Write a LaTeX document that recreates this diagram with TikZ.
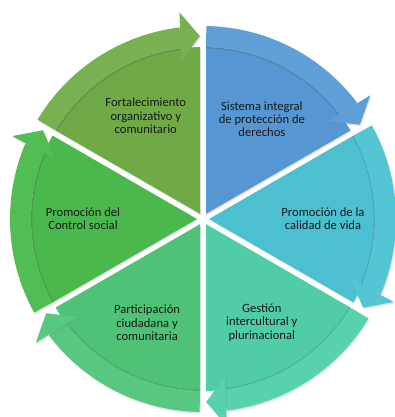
\documentclass[tikz,border=0pt]{standalone}
\usepackage{fontspec}
\setmainfont{Carlito}
\usetikzlibrary{calc,shadows}
% segment colours: wedge / arrow band
\definecolor{fortW}{RGB}{112,170,70}
\definecolor{fortB}{RGB}{120,178,80}
\definecolor{sisW}{RGB}{86,150,210}
\definecolor{sisB}{RGB}{96,158,216}
\definecolor{calW}{RGB}{76,192,208}
\definecolor{calB}{RGB}{84,197,211}
\definecolor{gesW}{RGB}{80,204,166}
\definecolor{gesB}{RGB}{88,209,173}
\definecolor{parW}{RGB}{80,194,120}
\definecolor{parB}{RGB}{88,199,128}
\definecolor{conW}{RGB}{74,184,76}
\definecolor{conB}{RGB}{82,189,84}
\begin{document}
\begin{tikzpicture}[x=1pt,y=1pt,
  every node/.style={font=\fontsize{12.6}{13.2}\selectfont,align=center,text=black!90},
  softshadow/.style={drop shadow={shadow xshift=1pt,shadow yshift=-1.5pt,opacity=0.22}}]
\useasboundingbox (0,0) rectangle (394,417);
\coordinate (c) at (203,198);
\def\ri{172}
\def\R{193}
% wedges (gap of about 6pt between them)
\foreach \a/\wc in {150/fortW,90/sisW,30/calW,-30/gesW,-90/parW,-150/conW}{
  \pgfmathsetmacro\s{\a-1}
  \pgfmathsetmacro\e{\a-59}
  \pgfmathsetmacro\m{\a-30}
  \fill[\wc,softshadow]
    ($(c)+(\m:6)$) -- ($(c)+(\s:\ri)$) arc[start angle=\s,end angle=\e,radius=\ri] -- cycle;
}
% arrow bands on the rim
\foreach \a/\bc in {150/fortB,90/sisB,30/calB,-30/gesB,-90/parB,-150/conB}{
  \pgfmathsetmacro\s{\a-1}
  \pgfmathsetmacro\h{\a-53}
  \fill[\bc,softshadow] ($(c)+(\s:\R)$) arc[start angle=\s,end angle=\h,radius=\R]
    -- ($(c)+(\h:\ri)$) arc[start angle=\h,end angle=\s,radius=\ri] -- cycle;
  \draw[black,opacity=0.10,line width=1.4pt] ($(c)+(\s:\ri-0.7)$) arc[start angle=\s,end angle=\h,radius=\ri-0.7];
}
% arrow heads, clockwise
\foreach \a/\bc in {150/fortB,90/sisB,30/calB,-30/gesB,-90/parB,-150/conB}{
  \pgfmathsetmacro\wo{\a-53.5}
  \pgfmathsetmacro\wi{\a-52}
  \pgfmathsetmacro\t{\a-59}
  \fill[\bc,softshadow] ($(c)+(\wo:208)$) -- ($(c)+(\t:183)$) -- ($(c)+(\wi:159)$) -- cycle;
}
% labels
\node (fort) at ($(c)+(119:118)$) {Fortalecimiento\\organizativo y\\comunitario};
\node (sis) at ($(c)+(59.5:116)$) {Sistema integral\\de protección de\\derechos};
\node (cal) at ($(c)+(0:120)$) {Promoción de la\\calidad de vida};
\node (ges) at ($(c)+(-60.4:119)$) {Gestión\\intercultural y\\plurinacional};
\node (par) at ($(c)+(-118.3:118)$) {Participación\\ciudadana y\\comunitaria};
\node (con) at ($(c)+(180:120)$) {Promoción del\\Control social};
\end{tikzpicture}
\end{document}
